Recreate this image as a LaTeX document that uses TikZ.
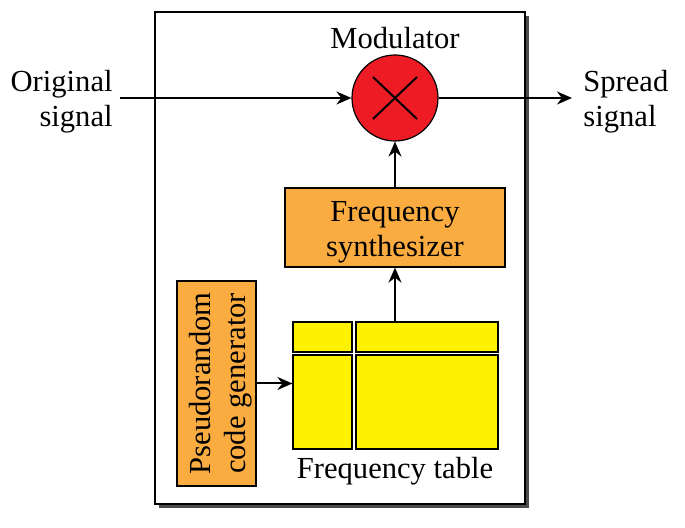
\documentclass[tikz,border=0pt]{standalone}
\usepackage{fontspec}
\setmainfont{Liberation Serif}
\usetikzlibrary{calc, positioning, arrows.meta}
\definecolor{modred}{RGB}{237,28,36}
\definecolor{synthorange}{RGB}{250,172,64}
\definecolor{tabyellow}{RGB}{255,242,0}
\newcommand{\lift}{\rule{0pt}{14.5pt}}

\begin{document}
\begin{tikzpicture}[x=0.5pt, y=-0.5pt, >={Stealth[length=7.5pt, width=6.5pt]},
  font=\fontsize{15.3}{17.5}\selectfont,
  box/.style={draw, line width=0.6pt, fill=synthorange, align=center, inner sep=0pt},
  cell/.style={draw, line width=0.6pt, fill=tabyellow, inner sep=0pt},
  conn/.style={->, line width=1pt}]

  \useasboundingbox (0,0) rectangle (685,528);

  % Outer frame with shadow
  \fill[black!70] (159,16) rectangle (529,508);
  \draw[line width=0.8pt, fill=white] (155,12) rectangle (525,504);

  % Blocks
  \node[circle, draw, line width=0.6pt, fill=modred, minimum size=43pt, inner sep=0pt] (mod) at (395,98) {};
  \draw[line width=1pt] ($(mod)+(-22,-21)$) -- ($(mod)+(22,21)$);
  \draw[line width=1pt] ($(mod)+(-22,21)$) -- ($(mod)+(22,-21)$);
  \node (modlabel) at (395,38) {Modulator};
  \node[box, minimum width=110pt, minimum height=39.5pt] (synth) at (395,227.5) {\lift Frequency\\synthesizer};
  \node[box, rotate=90, minimum width=102.5pt, minimum height=39.5pt] (pn) at (216.5,383.5) {\lift Pseudorandom\\code generator};

  % Frequency table
  \node[cell, minimum width=29.5pt, minimum height=15pt] (tabtl) at (322.5,337) {};
  \node[cell, minimum width=71pt, minimum height=15pt] (tabtr) at (427,337) {};
  \node[cell, minimum width=29.5pt, minimum height=47pt] (tabbl) at (322.5,402) {};
  \node[cell, minimum width=71pt, minimum height=47pt] (tabbr) at (427,402) {};
  \node (tablabel) at (395,471) {Frequency table};

  % Signals
  \node[align=right, anchor=east, inner xsep=3.5pt] (orig) at (120,98) {\lift Original\\signal};
  \node[align=left, anchor=west, inner xsep=5.5pt] (spread) at (572,98) {\lift Spread\\signal};

  % Connections
  \draw[conn] (orig.east) -- (mod.west);
  \draw[conn] (mod.east) -- (spread.west);
  \draw[conn] (synth.north) -- (mod.south);
  \draw[conn] (tabtr.north -| synth.south) -- (synth.south);
  \draw[conn] (pn.south) -- (pn.south -| tabbl.west);

\end{tikzpicture}
\end{document}
